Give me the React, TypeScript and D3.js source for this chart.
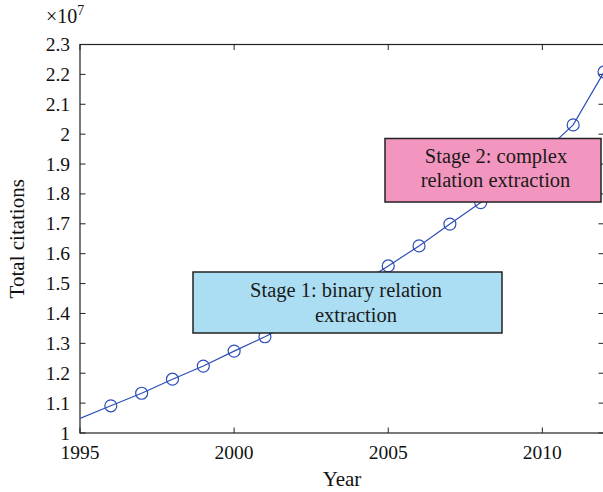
import React from "react";
import * as d3 from "d3";

const years = [1995, 1996, 1997, 1998, 1999, 2000, 2001, 2002, 2003, 2004, 2005, 2006, 2007, 2008, 2009, 2010, 2011, 2012];
const citations = [1.049, 1.091, 1.133, 1.18, 1.224, 1.274, 1.322, 1.375, 1.432, 1.494, 1.559, 1.626, 1.699, 1.771, 1.85, 1.935, 2.031, 2.208];
const xTicks = [1995, 2000, 2005, 2010];
const yTicks = [1, 1.1, 1.2, 1.3, 1.4, 1.5, 1.6, 1.7, 1.8, 1.9, 2, 2.1, 2.2, 2.3];
const stage1Lines = ["Stage 1: binary relation", "extraction"];
const stage2Lines = ["Stage 2: complex", "relation extraction"];

const W = 603, H = 492;
const M = { left: 80, top: 44.5, right: 604, bottom: 433 };
const FONT = "'Liberation Serif', 'Times New Roman', serif";
const LINE = "#2d4fb6";

export default function App() {
  const x = d3.scaleLinear().domain([1995, 2012]).range([M.left, M.right]);
  const y = d3.scaleLinear().domain([1, 2.3]).range([M.bottom, M.top]);
  const pts = years.map((yr, i) => ({ yr, v: citations[i] }));
  const line = d3.line<{ yr: number; v: number }>().x(d => x(d.yr)).y(d => y(d.v));
  const tick = 5.5;

  return (
    <svg width={W} height={H} style={{ position: "absolute", left: 0, top: 0 }} fontFamily={FONT}>
      <rect x={0} y={0} width={W} height={H} fill="#fff" />
      <defs>
        <clipPath id="plot"><rect x={M.left} y={M.top} width={M.right - M.left} height={M.bottom - M.top} /></clipPath>
      </defs>
      <rect x={M.left} y={M.top} width={M.right - M.left} height={M.bottom - M.top} fill="none" stroke="#222" strokeWidth={1.2} />
      {xTicks.map(t => (
        <g key={"x" + t}>
          <line x1={x(t)} x2={x(t)} y1={M.bottom} y2={M.bottom - tick} stroke="#222" />
          <line x1={x(t)} x2={x(t)} y1={M.top} y2={M.top + tick} stroke="#222" />
          <text x={x(t)} y={M.bottom + 26} textAnchor="middle" fontSize={19.5} fill="#111">{t}</text>
        </g>
      ))}
      {yTicks.map(t => (
        <g key={"y" + t}>
          <line x1={M.left} x2={M.left + tick} y1={y(t)} y2={y(t)} stroke="#222" />
          <line x1={M.right} x2={M.right - tick} y1={y(t)} y2={y(t)} stroke="#222" />
          <text x={M.left - 10} y={y(t) + 6.5} textAnchor="end" fontSize={19.5} fill="#111">{d3.format("")(+t.toFixed(1))}</text>
        </g>
      ))}
      <text x={46} y={23} fontSize={20} fill="#111">×10<tspan dy={-8} fontSize={14}>7</tspan></text>
      <text transform={`translate(24,${(M.top + M.bottom) / 2}) rotate(-90)`} textAnchor="middle" fontSize={21} fill="#111">Total citations</text>
      <text x={(M.left + M.right) / 2} y={486} textAnchor="middle" fontSize={21} fill="#111">Year</text>

      <g clipPath="url(#plot)">
        <path d={line(pts) || ""} fill="none" stroke={LINE} strokeWidth={1.2} />
        {pts.filter(p => p.yr > 1995).map(p => (
          <circle key={p.yr} cx={x(p.yr)} cy={y(p.v)} r={6} fill="none" stroke={LINE} strokeWidth={1.2} />
        ))}
      </g>

      <rect x={193} y={272} width={309} height={61} fill="#abdef3" stroke="#222" strokeWidth={1.5} />
      <text x={346} y={297} textAnchor="middle" fontSize={20.5} fill="#1a1a1a">{stage1Lines[0]}</text>
      <text x={356} y={322} textAnchor="middle" fontSize={20.5} fill="#1a1a1a">{stage1Lines[1]}</text>

      <rect x={385} y={138.5} width={216} height={63.5} fill="#f396bf" stroke="#222" strokeWidth={1.5} />
      <text x={496} y={163} textAnchor="middle" fontSize={20.5} fill="#1a1a1a">{stage2Lines[0]}</text>
      <text x={495.5} y={187} textAnchor="middle" fontSize={20.5} fill="#1a1a1a">{stage2Lines[1]}</text>
    </svg>
  );
}
